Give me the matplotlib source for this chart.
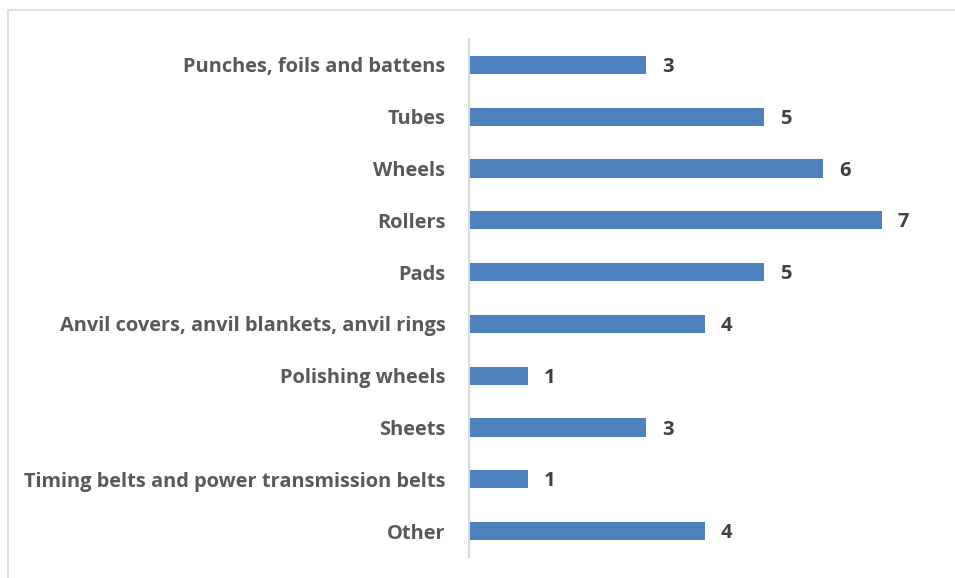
import matplotlib.pyplot as plt
from matplotlib.patches import Rectangle

categories = [
    "Punches, foils and battens",
    "Tubes",
    "Wheels",
    "Rollers",
    "Pads",
    "Anvil covers, anvil blankets, anvil rings",
    "Polishing wheels",
    "Sheets",
    "Timing belts and power transmission belts",
    "Other",
]
counts = [3, 5, 6, 7, 5, 4, 1, 3, 1, 4]

bar_color = "#4F81BD"
label_color = "#595959"
value_color = "#404040"

plt.rcParams["font.family"] = ["Open Sans", "DejaVu Sans"]

fig = plt.figure(figsize=(9.55, 5.78), dpi=100)
ax = fig.add_axes([0.4911, 0.0363, 0.4942, 0.8962])

y = list(range(len(categories)))
ax.barh(y, counts, height=0.35, color=bar_color)
ax.set_ylim(len(categories) - 0.5, -0.5)
ax.set_xlim(0, 8)

for yi, v in zip(y, counts):
    ax.annotate(str(v), (v, yi), xytext=(11.5, -1.5), textcoords="offset points",
                ha="left", va="center", fontsize=14.5, fontweight="bold",
                color=value_color)

ax.set_yticks(y)
ax.set_yticklabels(categories, fontsize=14.4, fontweight="bold", color=label_color)
ax.tick_params(axis="y", length=0, pad=17)
ax.set_xticks([])

for side in ["top", "right", "bottom"]:
    ax.spines[side].set_visible(False)
ax.spines["left"].set_color("#D9D9D9")
ax.spines["left"].set_linewidth(1.5)

# outer chart frame
fig.patches.append(Rectangle((8 / 955, -0.1), 1.2, 1 - 10 / 578 + 0.1,
                             transform=fig.transFigure, fill=False,
                             edgecolor="#D9D9D9", linewidth=1.2))

fig.savefig("out.png", dpi=100)
